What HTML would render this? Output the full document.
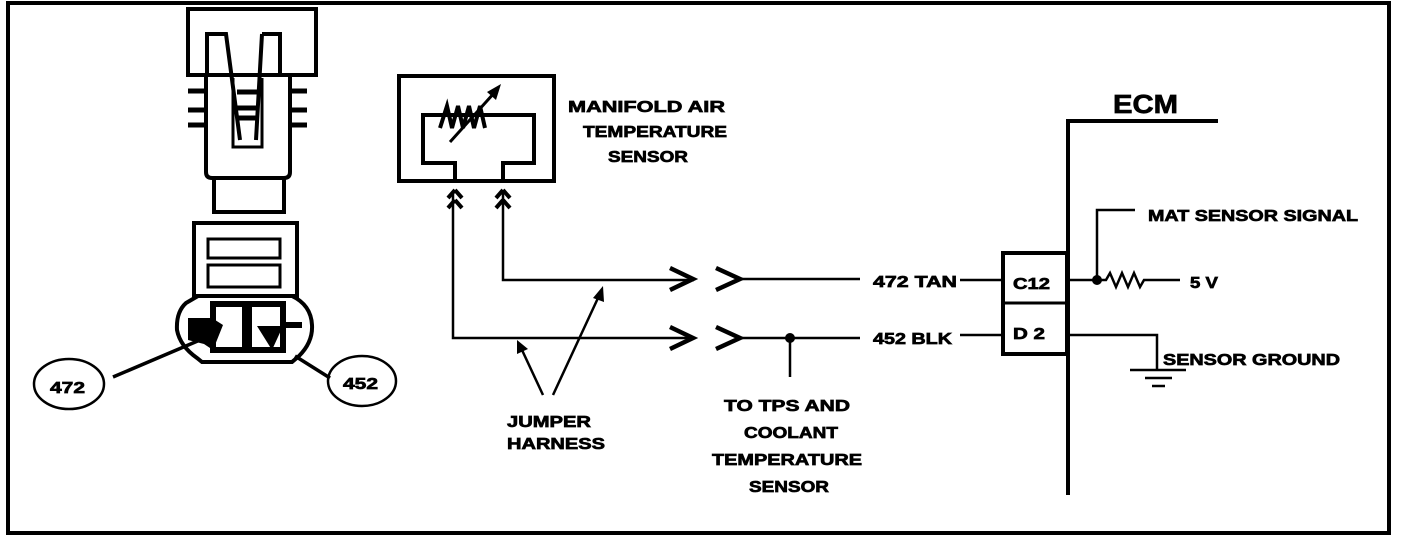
<!DOCTYPE html>
<html><head><meta charset="utf-8"><style>
html,body{margin:0;padding:0;background:#fff;}
svg{display:block;}
text{font-family:"Liberation Sans",sans-serif;font-weight:bold;fill:#000;stroke:#000;stroke-width:0.7;}
</style></head><body>
<svg width="1408" height="540" viewBox="0 0 1408 540" xmlns="http://www.w3.org/2000/svg">
<rect x="8" y="3" width="1381" height="530" fill="none" stroke="#000" stroke-width="4"/>
<g fill="none" stroke="#000" stroke-width="4" stroke-linejoin="miter">
 <rect x="188" y="9" width="128" height="66"/>
 <path d="M207,75 V34 H226 L240,140 M262,34 H280 V75 M262,34 L256,140" stroke-width="4"/>
 <path d="M233,78 V147 H262 V78" stroke-width="3"/>
 <path d="M206,75 V172 Q206,178 212,178 H284 Q290,178 290,172 V75"/>
 <g stroke-width="5">
  <path d="M188,91 H205 M188,110 H205 M188,125 H205 M290,91 H307 M290,110 H307 M290,125 H307"/>
  <path d="M237,92 H257 M237,108 H257 M237,118 H257"/>
 </g>
 <rect x="214" y="178" width="70" height="34"/>
 <rect x="194" y="223" width="103" height="73"/>
 <rect x="208" y="239" width="72" height="19" stroke-width="3"/>
 <rect x="208" y="265" width="72" height="22" stroke-width="3"/>
 <path d="M198,296 L186,303 Q176,312 177,330 Q180,346 197,358 L202,362 H292 L299,356 Q313,342 312,325 Q311,305 292,296"/>
 <rect x="213" y="304" width="70" height="46" stroke-width="6"/>
 <path d="M247,305 V348" stroke-width="10"/>
 <rect x="399" y="76" width="155" height="105"/>
 <path d="M455,181 V163 H423 V115 H534 V163 H503 V181"/>
 <path d="M455,190 L448,198 M455,190 L462,198 M455,200 L448,208 M455,200 L462,208 M503,190 L496,198 M503,190 L510,198 M503,200 L496,208 M503,200 L510,208" stroke-width="4"/>
 <path d="M453,192 V338 H694 M503,192 V280 H694" stroke-width="2.5"/>
 <path d="M670,268 L693,279 L670,290 M670,327 L693,338 L670,349 M716,268 L740,279 L716,290 M716,327 L740,338 L716,349" stroke-width="4.5"/>
 <path d="M740,279 H860 M740,338 H860 M790,338 V377" stroke-width="2.5"/>
 <path d="M543,395 L522,350 M553,395 L598,298" stroke-width="2.5"/>
 <path d="M113,377 L200,340 M295,356 L330,378" stroke-width="3.5"/>
 <ellipse cx="69" cy="384" rx="35" ry="25" stroke-width="2.5"/>
 <ellipse cx="362" cy="381" rx="34" ry="25" stroke-width="2.5"/>
 <path d="M1068,495 V121 H1218"/>
 <rect x="1003" y="253" width="64" height="101"/>
 <path d="M1003,303 H1067" stroke-width="3"/>
 <path d="M960,280 H1003 M960,335 H1003" stroke-width="2.5"/>
 <path d="M1068,280 H1097 V210 H1135 M1097,280 H1106 L1110,273 L1116,287 L1122,273 L1128,287 L1134,273 L1140,287 L1144,280 H1180" stroke-width="2.5"/>
 <path d="M1068,335 H1157 V370 M1130,370 H1186 M1145,378 H1172 M1152,386 H1165" stroke-width="2.5"/>
</g>
<circle cx="790" cy="338" r="5"/>
<circle cx="1097" cy="280" r="5"/>
<path d="M440,128 L447,106 L452,128 L458,106 L463,128 L469,106 L474,128 L480,106 L485,128" fill="none" stroke="#000" stroke-width="4"/>
<path d="M450,142 L495,92" stroke="#000" stroke-width="3"/>
<polygon points="501,84 487,92 496,100"/>
<polygon points="517,340 517,354 528,349"/>
<polygon points="603,286 593,298 604,302"/>
<polygon points="188,318 212,318 223,325 213,350 204,344 188,340"/>
<polygon points="257,326 283,326 272,350"/>
<rect x="283" y="322" width="19" height="6"/>
<text x="568" y="112" font-size="16" textLength="157" lengthAdjust="spacingAndGlyphs">MANIFOLD AIR</text>
<text x="583" y="137" font-size="16" textLength="144" lengthAdjust="spacingAndGlyphs">TEMPERATURE</text>
<text x="608" y="162" font-size="16" textLength="80" lengthAdjust="spacingAndGlyphs">SENSOR</text>
<text x="1113" y="113" font-size="26" textLength="65" lengthAdjust="spacingAndGlyphs">ECM</text>
<text x="1148" y="221" font-size="16" textLength="210" lengthAdjust="spacingAndGlyphs">MAT SENSOR SIGNAL</text>
<text x="1190" y="288" font-size="16" textLength="28" lengthAdjust="spacingAndGlyphs">5 V</text>
<text x="1163" y="365" font-size="16" textLength="177" lengthAdjust="spacingAndGlyphs">SENSOR GROUND</text>
<text x="873" y="287" font-size="16" textLength="84" lengthAdjust="spacingAndGlyphs">472 TAN</text>
<text x="873" y="344" font-size="16" textLength="79" lengthAdjust="spacingAndGlyphs">452 BLK</text>
<text x="1013" y="289" font-size="16" textLength="37" lengthAdjust="spacingAndGlyphs">C12</text>
<text x="1013" y="339" font-size="16" textLength="32" lengthAdjust="spacingAndGlyphs">D 2</text>
<text x="50" y="393" font-size="16" textLength="35" lengthAdjust="spacingAndGlyphs">472</text>
<text x="343" y="389" font-size="16" textLength="35" lengthAdjust="spacingAndGlyphs">452</text>
<text x="507" y="427" font-size="16" textLength="84" lengthAdjust="spacingAndGlyphs">JUMPER</text>
<text x="507" y="449" font-size="16" textLength="98" lengthAdjust="spacingAndGlyphs">HARNESS</text>
<text x="724" y="411" font-size="16" textLength="126" lengthAdjust="spacingAndGlyphs">TO TPS  AND</text>
<text x="744" y="438" font-size="16" textLength="94" lengthAdjust="spacingAndGlyphs">COOLANT</text>
<text x="712" y="465" font-size="16" textLength="150" lengthAdjust="spacingAndGlyphs">TEMPERATURE</text>
<text x="749" y="492" font-size="16" textLength="80" lengthAdjust="spacingAndGlyphs">SENSOR</text>
</svg>
</body></html>
